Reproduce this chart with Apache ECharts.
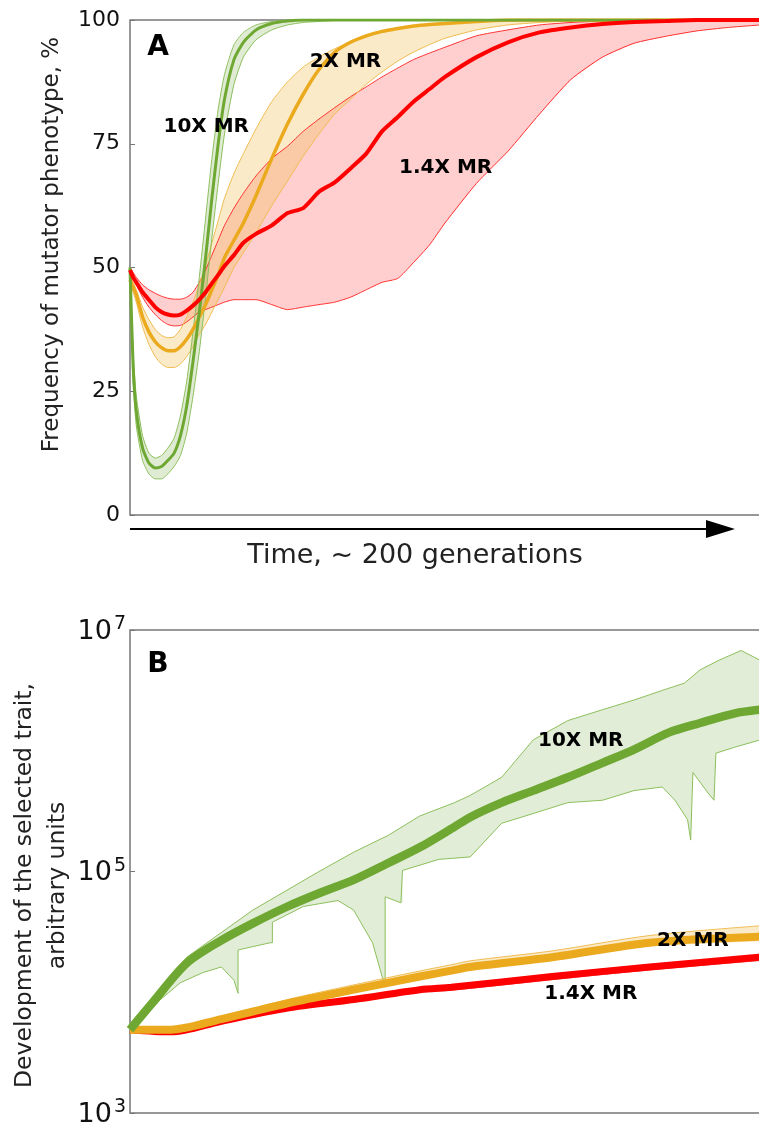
<!DOCTYPE html>
<html>
<head>
<meta charset="utf-8">
<title>Mutator phenotype</title>
<script src="https://cdn.jsdelivr.net/npm/echarts@6/dist/echarts.min.js"></script>
<style>
  html, body { margin: 0; padding: 0; background: #fff; }
  #chart { width: 759px; height: 1122px; }
</style>
</head>
<body>
<div id="chart"></div>
<script>
// Panel A: time in generations, frequency in %
const timeA = [0, 1, 2, 4, 6, 8, 10, 12, 14, 16, 18, 20, 22, 24, 26, 28, 30, 33, 36, 40, 45, 50, 55, 60, 65, 70, 75, 80, 85, 90, 95, 100, 110, 120, 130, 140, 150, 160, 170, 180, 190, 200];

const greenMeanA = [50, 30, 21, 13.5, 10.5, 9.5, 9.8, 11, 12.5, 16, 22, 31, 41, 52, 64, 75, 84, 92, 95.5, 98, 99.3, 99.8, 100, 100, 100, 100, 100, 100, 100, 100, 100, 100, 100, 100, 100, 100, 100, 100, 100, 100, 100, 100];
const greenUpperA = [50, 33, 24, 16, 12.5, 11.5, 12, 13.5, 15.5, 20, 27, 37, 48, 60, 72, 82, 89, 95, 97.5, 99, 99.7, 100, 100, 100, 100, 100, 100, 100, 100, 100, 100, 100, 100, 100, 100, 100, 100, 100, 100, 100, 100, 100];
const greenLowerA = [50, 27, 18, 11, 8.3, 7.3, 7.3, 8.3, 9.8, 12, 16.5, 24, 33, 44, 56, 67, 77, 87, 92.5, 96, 98, 99, 99.5, 99.7, 99.9, 100, 100, 100, 100, 100, 100, 100, 100, 100, 100, 100, 100, 100, 100, 100, 100, 100];

const orangeMeanA = [47.5, 46, 44.5, 40, 37, 35, 33.8, 33.2, 33.2, 34, 35.5, 37.5, 40, 42.5, 45.5, 48.5, 52, 55.5, 59, 64.5, 72, 79, 85, 90, 93.5, 95.5, 96.8, 97.7, 98.3, 98.8, 99.1, 99.3, 99.7, 100, 100, 100, 100, 100, 100, 100, 100, 100];
const orangeUpperA = [48, 47, 45.5, 42, 39.5, 37.5, 36.3, 35.8, 36, 37.5, 40, 43, 46.5, 50.5, 55, 59.5, 64, 69, 73, 78, 83.5, 87.5, 90.5, 92.5, 94.2, 95.5, 96.6, 97.5, 98.2, 98.7, 99, 99.3, 99.6, 99.8, 100, 100, 100, 100, 100, 100, 100, 100];
const orangeLowerA = [47, 45, 43, 38, 34.5, 32, 30.5, 29.8, 29.8, 30.5, 32, 34, 36.5, 38.5, 41, 43.5, 46, 50, 53, 57, 62.5, 67.5, 72.5, 77, 81, 84, 87, 89.5, 91.7, 93.5, 95, 96.3, 98, 99, 99.5, 99.8, 100, 100, 100, 100, 100, 100];

const redMeanA = [49.5, 48, 47, 45, 43.5, 42, 41, 40.5, 40.3, 40.5, 41.3, 42.3, 43.5, 45, 46.8, 48.5, 50.3, 52.5, 55, 56.8, 58.5, 61, 62, 65.3, 67.2, 70, 73, 77.5, 80.4, 83.5, 86, 88.5, 92.5, 95.5, 97.5, 98.5, 99.2, 99.6, 99.8, 100, 100, 100];
const redUpperA = [50, 49, 48, 46.5, 45.5, 44.8, 44.2, 43.8, 43.6, 43.6, 44, 45, 47, 49.5, 52.5, 55.5, 58.5, 62, 65, 68.5, 72, 74.5, 77.5, 80, 82.3, 84.5, 86.5, 88.5, 90.3, 92, 93.3, 94.5, 96.8, 98, 99, 99.5, 99.8, 100, 100, 100, 100, 100];
const redLowerA = [49, 47.8, 46.5, 44, 42, 40.5, 39.3, 38.5, 38.2, 38.3, 39, 40, 41, 41.5, 42, 42.5, 43, 43.5, 43.5, 43.5, 42.5, 41.5, 42, 42.5, 43, 44, 45.5, 47, 47.8, 51, 54.5, 59, 67, 73.5, 81, 88, 92.5, 95.3, 96.7, 97.8, 98.5, 99];

// Panel B: trait value on a log scale
const greenMeanTimeB = [0, 7, 18, 29, 39, 50, 60, 71, 82, 92, 103, 108, 118, 128, 139, 150, 160, 171, 181, 192, 200];
const greenMeanB = [4900, 8100, 17400, 26900, 37200, 51300, 66100, 85100, 117500, 158500, 234400, 281800, 371500, 467700, 602600, 794300, 1023000, 1413000, 1698000, 2042000, 2188000];
const greenUpperTimeB = [0, 7, 18, 39, 60, 71, 82, 92, 103, 108, 118, 128, 139, 150, 160, 169, 176, 181, 187, 194, 200];
const greenUpperB = [4900, 8500, 19500, 47900, 100000, 144500, 199500, 288400, 371500, 426600, 602600, 1230000, 1778000, 2188000, 2630000, 3162000, 3631000, 4677000, 5623000, 6761000, 5623000];
const greenLowerTimeB = [0, 7, 16, 23, 29, 33, 34.3, 34.3, 44.5, 45.2, 45.2, 55, 66, 71, 77, 81, 81, 86, 86.5, 86.5, 98, 108, 118, 128, 139, 150, 160, 169, 173, 177, 178, 178.7, 183.5, 185.4, 186, 192, 200];
const greenLowerB = [4900, 7600, 12000, 14500, 16200, 12600, 9800, 22400, 25700, 25700, 38000, 51300, 57500, 47900, 25700, 11000, 61700, 55000, 55000, 102000, 126000, 132000, 251000, 302000, 372000, 389000, 468000, 501000, 389000, 269000, 182000, 661000, 447000, 389000, 955000, 1070000, 1230000];

const orangeTimeB = [0, 13, 29, 50, 71, 92, 102, 108, 134, 165, 200];
const orangeMeanB = [4900, 4900, 6000, 8100, 10500, 13500, 15100, 16200, 19500, 25700, 28800];
const orangeUpperB = [4900, 5000, 6300, 8700, 11500, 15000, 16900, 18200, 22000, 29500, 35500];
const orangeLowerB = [4800, 4800, 5800, 7800, 10000, 12800, 14300, 15300, 18500, 24000, 26500];

const redTimeB = [0, 13, 29, 50, 71, 92, 102, 134, 165, 200];
const redMeanB = [4900, 4700, 5750, 7400, 8700, 10500, 11000, 13500, 16200, 19500];
const redUpperB = [4950, 4800, 5950, 7700, 9100, 11000, 11600, 14300, 17200, 21000];
const redLowerB = [4850, 4600, 5550, 7100, 8300, 10000, 10400, 12700, 15300, 18300];

const yTicksA = [0, 25, 50, 75, 100];
const labelTextA = ["10X MR", "2X MR", "1.4X MR"];
const labelTimeA = [24.2, 68.4, 100.2];
const labelValueA = [78.4, 91.5, 70.1];
const labelTextB = ["10X MR", "2X MR", "1.4X MR"];
const labelTimeB = [143.1, 178.7, 146.3];
const labelValueB = [1200000, 26900, 9800];

const GREEN = "#6ea832";
const ORANGE = "#ebaa1e";
const RED = "#ff0000";
const FONT = "DejaVu Sans";

function pairs(times, values) {
  return times.map((t, i) => [t, values[i]]);
}

function bandSeries(panel, upper, lower, fill) {
  const points = upper.concat(lower.slice().reverse());
  return {
    type: "custom",
    xAxisIndex: panel,
    yAxisIndex: panel,
    silent: true,
    clip: true,
    z: 1,
    data: [points[0]],
    renderItem: (params, api) => ({
      type: "polygon",
      shape: { points: points.map(p => api.coord(p)) },
      style: { fill: fill }
    })
  };
}

function lineSeries(panel, data, color, width, z, smooth) {
  return {
    type: "line",
    xAxisIndex: panel,
    yAxisIndex: panel,
    data: data,
    showSymbol: false,
    silent: true,
    smooth: smooth,
    z: z,
    lineStyle: { color: color, width: width }
  };
}

function labelSeries(panel, texts, times, values) {
  return {
    type: "scatter",
    xAxisIndex: panel,
    yAxisIndex: panel,
    silent: true,
    z: 20,
    symbolSize: 1,
    itemStyle: { color: "rgba(0,0,0,0)" },
    data: texts.map((text, i) => [times[i], values[i], text]),
    label: {
      show: true,
      position: "inside",
      formatter: p => p.value[2],
      fontFamily: FONT,
      fontSize: 20,
      fontWeight: "bold",
      color: "#000",
      opacity: 1,
      textBorderWidth: 0
    }
  };
}

const chart = echarts.init(document.getElementById("chart"), null, { renderer: "canvas" });

const series = [
  bandSeries(0, pairs(timeA, redUpperA), pairs(timeA, redLowerA), "rgba(255,70,70,0.26)"),
  bandSeries(0, pairs(timeA, orangeUpperA), pairs(timeA, orangeLowerA), "rgba(240,190,80,0.32)"),
  bandSeries(0, pairs(timeA, greenUpperA), pairs(timeA, greenLowerA), "rgba(120,175,70,0.24)"),
  lineSeries(0, pairs(timeA, redUpperA), "#ff3030", 1, 2, 0.2),
  lineSeries(0, pairs(timeA, redLowerA), "#ff3030", 1, 2, 0.2),
  lineSeries(0, pairs(timeA, orangeUpperA), "#f0bb50", 1, 2, 0.2),
  lineSeries(0, pairs(timeA, orangeLowerA), "#f0bb50", 1, 2, 0.2),
  lineSeries(0, pairs(timeA, greenUpperA), "#8cbf5c", 1, 2, 0.2),
  lineSeries(0, pairs(timeA, greenLowerA), "#8cbf5c", 1, 2, 0.2),
  lineSeries(0, pairs(timeA, orangeMeanA), ORANGE, 3.5, 3, 0.2),
  lineSeries(0, pairs(timeA, greenMeanA), GREEN, 3, 4, 0.2),
  lineSeries(0, pairs(timeA, redMeanA), RED, 4, 5, 0.2),
  labelSeries(0, labelTextA, labelTimeA, labelValueA),

  bandSeries(1, pairs(greenUpperTimeB, greenUpperB), pairs(greenLowerTimeB, greenLowerB), "rgba(120,175,70,0.22)"),
  bandSeries(1, pairs(orangeTimeB, orangeUpperB), pairs(orangeTimeB, orangeLowerB), "rgba(240,190,80,0.32)"),
  bandSeries(1, pairs(redTimeB, redUpperB), pairs(redTimeB, redLowerB), "rgba(255,70,70,0.26)"),
  lineSeries(1, pairs(greenUpperTimeB, greenUpperB), "#8cbf5c", 1, 2, false),
  lineSeries(1, pairs(greenLowerTimeB, greenLowerB), "#8cbf5c", 1, 2, false),
  lineSeries(1, pairs(orangeTimeB, orangeUpperB), "#f0bb50", 1, 2, 0.3),
  lineSeries(1, pairs(redTimeB, redLowerB), "#ff5050", 1, 2, 0.3),
  lineSeries(1, pairs(redTimeB, redMeanB), RED, 7, 3, 0.3),
  lineSeries(1, pairs(orangeTimeB, orangeMeanB), ORANGE, 8, 4, 0.3),
  lineSeries(1, pairs(greenMeanTimeB, greenMeanB), GREEN, 8.5, 5, 0.3),
  labelSeries(1, labelTextB, labelTimeB, labelValueB)
];

chart.setOption({
  animation: false,
  backgroundColor: "#fff",
  textStyle: { fontFamily: FONT },
  grid: [
    { left: 130, top: 20, right: -1, height: 495, show: true, borderColor: "#777", borderWidth: 1.5, outerBoundsMode: "none", containLabel: false },
    { left: 130, top: 630, right: -1, height: 483, show: true, borderColor: "#777", borderWidth: 1.5, outerBoundsMode: "none", containLabel: false }
  ],
  xAxis: [
    { gridIndex: 0, type: "value", min: 0, max: 200, show: false },
    { gridIndex: 1, type: "value", min: 0, max: 200, show: false }
  ],
  yAxis: [
    {
      gridIndex: 0,
      type: "value",
      min: yTicksA[0],
      max: yTicksA[yTicksA.length - 1],
      interval: 25,
      axisLine: { show: false },
      axisTick: { show: true, inside: true, length: 5, lineStyle: { color: "#777" } },
      splitLine: { show: false },
      axisLabel: { fontFamily: FONT, fontSize: 22, color: "#111", margin: 10 },
      name: "Frequency of mutator phenotype, %",
      nameLocation: "middle",
      nameGap: 66,
      nameTextStyle: { fontFamily: FONT, fontSize: 23, color: "#222", padding: [0, 0, 0, 46] }
    },
    {
      gridIndex: 1,
      type: "log",
      logBase: 10,
      min: 1000,
      max: 10000000,
      interval: 2,
      splitNumber: 2,
      axisLine: { show: false },
      axisTick: { show: true, inside: true, length: 5, lineStyle: { color: "#777" } },
      splitLine: { show: false },
      axisLabel: {
        margin: 4,
        fontSize: 26,
        formatter: value => {
          const exp = Math.round(Math.log10(value));
          return exp % 2 === 1 ? `{b|10}{s|${exp}}` : "";
        },
        rich: {
          b: { fontFamily: FONT, fontSize: 27, color: "#111", lineHeight: 30, verticalAlign: "bottom" },
          s: { fontFamily: FONT, fontSize: 19, color: "#111", lineHeight: 19, verticalAlign: "top", padding: [0, 0, 0, 2] }
        }
      },
      name: "Development of the selected trait,\narbitrary units",
      nameLocation: "middle",
      nameGap: 56,
      nameMoveOverlap: false,
      nameTextStyle: { fontFamily: FONT, fontSize: 23.5, color: "#222", lineHeight: 33, padding: [0, 28, 0, 0] }
    }
  ],
  graphic: [
    { type: "line", shape: { x1: 130, y1: 529, x2: 712, y2: 529 }, style: { stroke: "#000", lineWidth: 2 } },
    { type: "polygon", shape: { points: [[706, 520], [735, 529], [706, 538]] }, style: { fill: "#000" } },
    { type: "text", x: 415, y: 556, style: { text: "Time, ~ 200 generations", fontFamily: FONT, fontSize: 27, fill: "#222", textAlign: "center", textVerticalAlign: "middle" } },
    { type: "text", x: 158, y: 48, z: 30, style: { text: "A", fontFamily: FONT, fontSize: 28, fontWeight: "bold", fill: "#000", textAlign: "center", textVerticalAlign: "middle" } },
    { type: "text", x: 158, y: 665, z: 30, style: { text: "B", fontFamily: FONT, fontSize: 28, fontWeight: "bold", fill: "#000", textAlign: "center", textVerticalAlign: "middle" } }
  ],
  series: series
});
</script>
</body>
</html>
